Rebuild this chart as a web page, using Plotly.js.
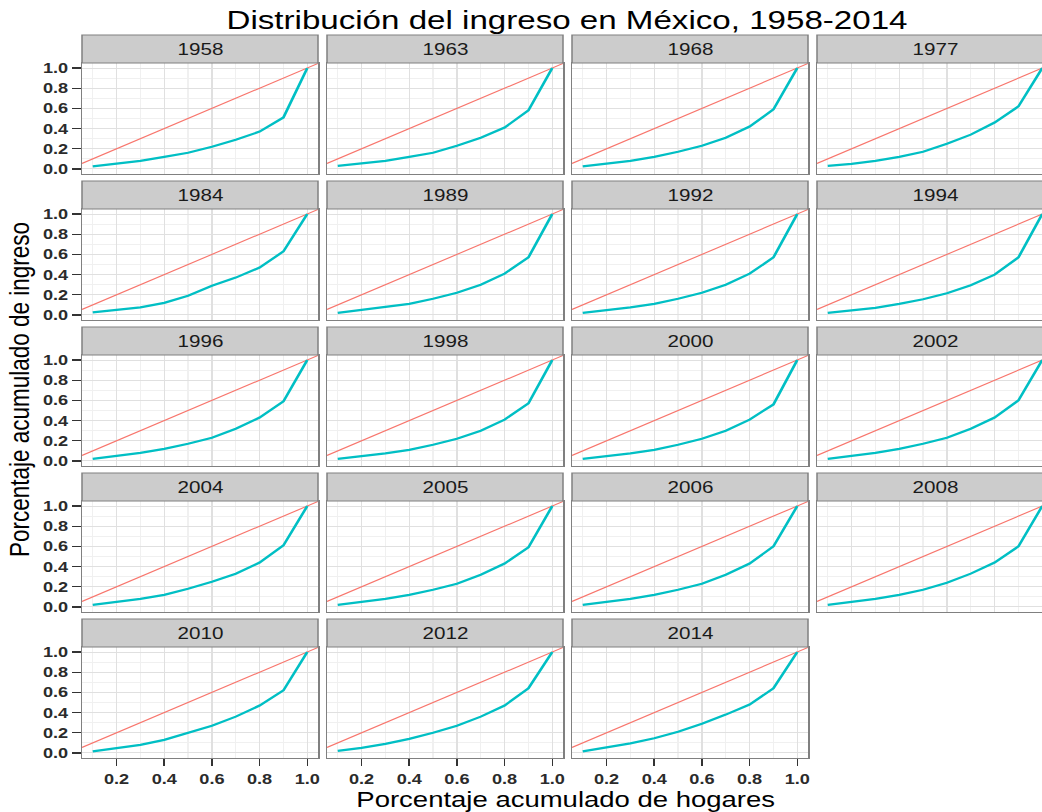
<!DOCTYPE html>
<html>
<head>
<meta charset="utf-8">
<script src="https://cdn.plot.ly/plotly-3.0.1.min.js"></script>
<style>
html,body{margin:0;padding:0;overflow:hidden;background:#ffffff;}
#chart{height:812px;transform-origin:0 0;}
</style>
</head>
<body>
<div id="chart"></div>
<script>
// ---- data ----
const years = ['1958','1963','1968','1977','1984','1989','1992','1994','1996','1998',
               '2000','2002','2004','2005','2006','2008','2010','2012','2014'];
const householdShare = [0.1,0.2,0.3,0.4,0.5,0.6,0.7,0.8,0.9,1.0];

const inc1958 = [0.025,0.05,0.08,0.12,0.16,0.22,0.29,0.37,0.51,1.0];
const inc1963 = [0.03,0.055,0.08,0.12,0.16,0.23,0.31,0.41,0.58,1.0];
const inc1968 = [0.025,0.05,0.08,0.12,0.17,0.23,0.31,0.42,0.59,1.0];
const inc1977 = [0.03,0.05,0.08,0.12,0.17,0.25,0.34,0.46,0.62,1.0];
const inc1984 = [0.026,0.05,0.075,0.12,0.19,0.29,0.37,0.47,0.63,1.0];
const inc1989 = [0.02,0.05,0.08,0.11,0.16,0.22,0.30,0.41,0.57,1.0];
const inc1992 = [0.02,0.045,0.075,0.11,0.16,0.22,0.30,0.41,0.57,1.0];
const inc1994 = [0.02,0.045,0.07,0.11,0.155,0.215,0.295,0.40,0.57,1.0];
const inc1996 = [0.02,0.05,0.08,0.12,0.17,0.23,0.32,0.43,0.59,1.0];
const inc1998 = [0.02,0.045,0.075,0.11,0.16,0.22,0.30,0.41,0.57,1.0];
const inc2000 = [0.02,0.045,0.075,0.11,0.16,0.22,0.30,0.41,0.56,1.0];
const inc2002 = [0.02,0.05,0.08,0.12,0.17,0.23,0.32,0.43,0.60,1.0];
const inc2004 = [0.02,0.05,0.08,0.12,0.18,0.25,0.33,0.44,0.61,1.0];
const inc2005 = [0.02,0.05,0.08,0.12,0.17,0.23,0.32,0.43,0.59,1.0];
const inc2006 = [0.02,0.05,0.08,0.12,0.17,0.23,0.32,0.43,0.60,1.0];
const inc2008 = [0.02,0.05,0.08,0.12,0.17,0.24,0.33,0.44,0.60,1.0];
const inc2010 = [0.015,0.045,0.08,0.13,0.20,0.27,0.36,0.47,0.62,1.0];
const inc2012 = [0.02,0.05,0.09,0.14,0.20,0.27,0.36,0.47,0.64,1.0];
const inc2014 = [0.015,0.055,0.095,0.145,0.21,0.29,0.38,0.48,0.64,1.0];

const incomeSeries = [inc1958,inc1963,inc1968,inc1977,inc1984,inc1989,inc1992,inc1994,
                      inc1996,inc1998,inc2000,inc2002,inc2004,inc2005,inc2006,inc2008,
                      inc2010,inc2012,inc2014];

// ---- layout geometry (final pixels) ----
// The reference image is horizontally stretched; the figure is drawn narrower and
// stretched with a CSS scaleX so glyphs get the same wide look.
const STRETCH = 1.25;
const W = 1060, H = 812;              // final (stretched) size
const LW = W / STRETCH;               // layout width before stretching
const PANEL_L = 82, PANEL_W = 236, COL_STEP = 245;
const PANEL_T = 63, PANEL_H = 111, ROW_STEP = 146, STRIP_H = 28;
const NCOL = 4;
const xRange = [0.055, 1.045];
const yRange = [-0.05, 1.05];
const nRows = Math.ceil(years.length / NCOL);

const chartDiv = document.getElementById('chart');
chartDiv.style.width = LW + 'px';
chartDiv.style.transform = 'scaleX(' + STRETCH + ')';

const FONT = 'Liberation Sans, Arial, sans-serif';
const tickFont = {family: FONT, size: 14.5, color: '#2b2b2b', weight: 'bold'};

const data = [];
const layout = {
  width: LW, height: H,
  margin: {l: 0, r: 0, t: 0, b: 0},
  paper_bgcolor: '#ffffff',
  plot_bgcolor: '#ffffff',
  showlegend: false,
  title: {
    text: 'Distribución del ingreso en México, 1958-2014',
    font: {family: FONT, size: 26.5, color: '#000000'},
    x: 567 / W, xanchor: 'center', xref: 'paper',
    y: 1 - 20 / H, yanchor: 'middle', yref: 'paper'
  },
  shapes: [],
  annotations: []
};

years.forEach((yr, i) => {
  const r = Math.floor(i / NCOL), c = i % NCOL;
  const n = i + 1;
  const xs = n === 1 ? '' : String(n);
  const x0 = PANEL_L + c * COL_STEP, x1 = x0 + PANEL_W;
  const yTop = PANEL_T + r * ROW_STEP, yBot = yTop + PANEL_H;
  const bottom = (r === nRows - 1);
  const left = (c === 0);

  // equality line spanning the panel (y = x)
  data.push({
    type: 'scatter', mode: 'lines',
    x: xRange, y: xRange,
    xaxis: 'x' + xs, yaxis: 'y' + xs,
    line: {color: '#F8766D', width: 1.1},
    hoverinfo: 'skip'
  });
  // Lorenz curve
  data.push({
    type: 'scatter', mode: 'lines',
    x: householdShare, y: incomeSeries[i],
    xaxis: 'x' + xs, yaxis: 'y' + xs,
    line: {color: '#00BFC4', width: 2.2}
  });

  const common = {
    showline: true, mirror: true, linecolor: '#808080', linewidth: 1.2,
    showgrid: true, gridcolor: '#e0e0e0', gridwidth: 1,
    zeroline: false,
    tickmode: 'linear', tick0: 0, dtick: 0.2, tickformat: '.1f',
    minor: {showgrid: true, dtick: 0.1, tick0: 0, gridcolor: '#f0f0f0', gridwidth: 1},
    ticklen: 7, tickwidth: 1.2, tickcolor: '#333333',
    tickfont: tickFont,
    fixedrange: true
  };

  layout['xaxis' + xs] = Object.assign({}, common, {
    domain: [x0 / W, x1 / W], range: xRange, anchor: 'y' + xs,
    ticks: bottom ? 'outside' : '', showticklabels: bottom
  });
  layout['yaxis' + xs] = Object.assign({}, common, {
    domain: [1 - yBot / H, 1 - yTop / H], range: yRange, anchor: 'x' + xs,
    ticks: left ? 'outside' : '', showticklabels: left
  });

  // strip
  const sTop = yTop - STRIP_H;
  layout.shapes.push({
    type: 'rect', xref: 'paper', yref: 'paper',
    x0: x0 / W, x1: x1 / W, y0: 1 - yTop / H, y1: 1 - sTop / H,
    fillcolor: '#cccccc', line: {color: '#808080', width: 1.2}, layer: 'above'
  });
  layout.annotations.push({
    text: yr, xref: 'paper', yref: 'paper',
    x: (x0 + x1) / 2 / W, y: 1 - (sTop + STRIP_H / 2) / H,
    xanchor: 'center', yanchor: 'middle', showarrow: false,
    font: {family: FONT, size: 16.5, color: '#1a1a1a'}
  });
});

// axis titles
layout.annotations.push({
  text: 'Porcentaje acumulado de hogares', xref: 'paper', yref: 'paper',
  x: 566 / W, y: 1 - 799 / H, xanchor: 'center', yanchor: 'middle',
  showarrow: false, font: {family: FONT, size: 22, color: '#000000'}
});
layout.annotations.push({
  text: 'Porcentaje acumulado de ingreso', xref: 'paper', yref: 'paper',
  x: 19 / W, y: 1 - 390 / H, xanchor: 'center', yanchor: 'middle', textangle: -90,
  showarrow: false, font: {family: FONT, size: 22.5, color: '#000000'}
});

Plotly.newPlot('chart', data, layout, {displayModeBar: false, staticPlot: true});
</script>
</body>
</html>
